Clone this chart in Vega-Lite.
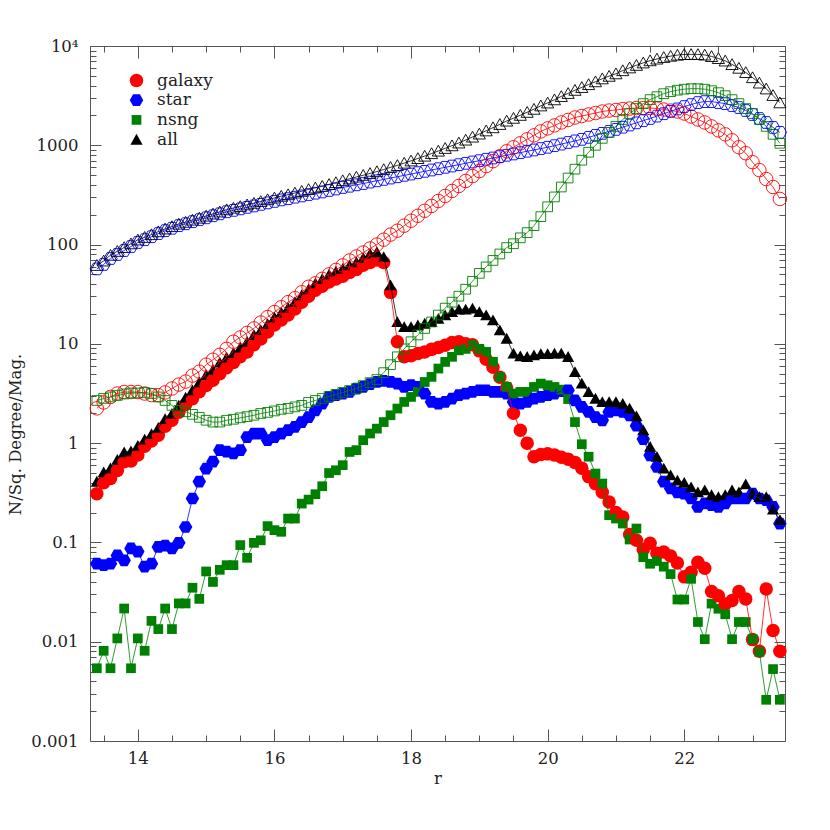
{
  "$schema": "https://vega.github.io/schema/vega-lite/v6.json",
  "width": 695,
  "height": 695,
  "autosize": {"type": "none"},
  "padding": {"left": 90, "top": 46, "right": 45, "bottom": 89},
  "background": "white",
  "config": {
    "view": {"stroke": "#555", "strokeWidth": 1},
    "axis": {"labelFont": "DejaVu Serif", "titleFont": "DejaVu Serif", "labelColor": "#222", "titleColor": "#222", "tickColor": "#555", "tickWidth": 1, "domain": false, "grid": false, "titleFontWeight": "normal", "labelFontSize": 16.5, "titleFontSize": 16.5, "labelOverlap": false, "labelFlush": false},
    "legend": {"labelFont": "DejaVu Serif", "labelFontSize": 17, "labelColor": "#222"}
  },
  "data": {"values": [
    {"r":13.4,"galaxy":0.31,"star":0.061,"nsng":0.0054,"all":0.41,"galaxy_o":2.24,"star_o":56.9,"nsng_o":2.69,"all_o":61.8},
    {"r":13.5,"galaxy":0.40,"star":0.059,"nsng":0.0081,"all":0.51,"galaxy_o":2.57,"star_o":63.1,"nsng_o":2.82,"all_o":68.5},
    {"r":13.6,"galaxy":0.44,"star":0.061,"nsng":0.0054,"all":0.56,"galaxy_o":2.92,"star_o":72.4,"nsng_o":2.92,"all_o":78.2},
    {"r":13.7,"galaxy":0.53,"star":0.074,"nsng":0.0108,"all":0.68,"galaxy_o":3.16,"star_o":79.4,"nsng_o":3.02,"all_o":85.6},
    {"r":13.8,"galaxy":0.65,"star":0.066,"nsng":0.0216,"all":0.81,"galaxy_o":3.27,"star_o":87.1,"nsng_o":3.13,"all_o":93.5},
    {"r":13.9,"galaxy":0.66,"star":0.087,"nsng":0.0054,"all":0.83,"galaxy_o":3.27,"star_o":95.5,"nsng_o":3.20,"all_o":102},
    {"r":14.0,"galaxy":0.76,"star":0.081,"nsng":0.0108,"all":0.94,"galaxy_o":3.27,"star_o":105,"nsng_o":3.20,"all_o":111.5},
    {"r":14.1,"galaxy":0.93,"star":0.057,"nsng":0.0081,"all":1.09,"galaxy_o":3.16,"star_o":112,"nsng_o":3.24,"all_o":118.4},
    {"r":14.2,"galaxy":1.05,"star":0.061,"nsng":0.0162,"all":1.24,"galaxy_o":3.05,"star_o":120,"nsng_o":3.16,"all_o":126.2},
    {"r":14.3,"galaxy":1.2,"star":0.090,"nsng":0.0134,"all":1.43,"galaxy_o":3.04,"star_o":129,"nsng_o":2.92,"all_o":135},
    {"r":14.4,"galaxy":1.48,"star":0.093,"nsng":0.0216,"all":1.75,"galaxy_o":3.24,"star_o":138,"nsng_o":2.69,"all_o":143.9},
    {"r":14.5,"galaxy":1.7,"star":0.087,"nsng":0.0134,"all":1.98,"galaxy_o":3.55,"star_o":146,"nsng_o":2.40,"all_o":152},
    {"r":14.6,"galaxy":2.05,"star":0.099,"nsng":0.0243,"all":2.39,"galaxy_o":3.89,"star_o":155,"nsng_o":2.14,"all_o":161},
    {"r":14.7,"galaxy":2.45,"star":0.143,"nsng":0.0243,"all":2.88,"galaxy_o":4.17,"star_o":162,"nsng_o":2.07,"all_o":168.2},
    {"r":14.8,"galaxy":2.8,"star":0.277,"nsng":0.035,"all":3.42,"galaxy_o":4.79,"star_o":170,"nsng_o":1.95,"all_o":176.7},
    {"r":14.9,"galaxy":3.3,"star":0.41,"nsng":0.027,"all":4.1,"galaxy_o":5.25,"star_o":178,"nsng_o":1.82,"all_o":185},
    {"r":15.0,"galaxy":3.8,"star":0.555,"nsng":0.051,"all":4.85,"galaxy_o":6.17,"star_o":186,"nsng_o":1.70,"all_o":193.9},
    {"r":15.1,"galaxy":4.3,"star":0.65,"nsng":0.040,"all":5.5,"galaxy_o":6.92,"star_o":195,"nsng_o":1.63,"all_o":203.5},
    {"r":15.2,"galaxy":5.0,"star":0.85,"nsng":0.053,"all":6.5,"galaxy_o":7.76,"star_o":204,"nsng_o":1.63,"all_o":213.4},
    {"r":15.3,"galaxy":5.75,"star":0.82,"nsng":0.059,"all":7.3,"galaxy_o":8.91,"star_o":214,"nsng_o":1.70,"all_o":224.6},
    {"r":15.4,"galaxy":6.5,"star":0.79,"nsng":0.059,"all":8.1,"galaxy_o":10.5,"star_o":221,"nsng_o":1.74,"all_o":233.2},
    {"r":15.5,"galaxy":7.4,"star":0.85,"nsng":0.094,"all":9.2,"galaxy_o":11.6,"star_o":229,"nsng_o":1.80,"all_o":242.4},
    {"r":15.6,"galaxy":8.3,"star":1.15,"nsng":0.07,"all":10.5,"galaxy_o":12.9,"star_o":237,"nsng_o":1.85,"all_o":251.8},
    {"r":15.7,"galaxy":9.8,"star":1.25,"nsng":0.099,"all":12.3,"galaxy_o":14.3,"star_o":245,"nsng_o":1.91,"all_o":261.2},
    {"r":15.8,"galaxy":11.2,"star":1.25,"nsng":0.105,"all":13.8,"galaxy_o":16.4,"star_o":254,"nsng_o":1.99,"all_o":272.4},
    {"r":15.9,"galaxy":13.2,"star":1.07,"nsng":0.146,"all":15.9,"galaxy_o":18.6,"star_o":263,"nsng_o":2.04,"all_o":283.6},
    {"r":16.0,"galaxy":15.5,"star":1.15,"nsng":0.133,"all":18.5,"galaxy_o":20.9,"star_o":272,"nsng_o":2.11,"all_o":295},
    {"r":16.1,"galaxy":17.4,"star":1.25,"nsng":0.128,"all":20.7,"galaxy_o":23.4,"star_o":282,"nsng_o":2.19,"all_o":307.6},
    {"r":16.2,"galaxy":19.5,"star":1.35,"nsng":0.174,"all":23.1,"galaxy_o":26.3,"star_o":290,"nsng_o":2.24,"all_o":318.5},
    {"r":16.3,"galaxy":22.4,"star":1.46,"nsng":0.174,"all":26.4,"galaxy_o":28.8,"star_o":300,"nsng_o":2.32,"all_o":331.1},
    {"r":16.4,"galaxy":26.3,"star":1.63,"nsng":0.246,"all":31,"galaxy_o":33.1,"star_o":309,"nsng_o":2.40,"all_o":344.5},
    {"r":16.5,"galaxy":30.2,"star":1.83,"nsng":0.27,"all":35.5,"galaxy_o":37.6,"star_o":319,"nsng_o":2.57,"all_o":359.2},
    {"r":16.6,"galaxy":34.7,"star":2.14,"nsng":0.306,"all":40.9,"galaxy_o":40.7,"star_o":329,"nsng_o":2.69,"all_o":372.4},
    {"r":16.7,"galaxy":38,"star":2.5,"nsng":0.368,"all":45,"galaxy_o":45.2,"star_o":339,"nsng_o":2.82,"all_o":387},
    {"r":16.8,"galaxy":42,"star":2.92,"nsng":0.50,"all":50,"galaxy_o":50.1,"star_o":351,"nsng_o":2.95,"all_o":404},
    {"r":16.9,"galaxy":45,"star":3.04,"nsng":0.533,"all":53.5,"galaxy_o":55.6,"star_o":363,"nsng_o":3.09,"all_o":421.7},
    {"r":17.0,"galaxy":48,"star":3.16,"nsng":0.60,"all":57,"galaxy_o":61.7,"star_o":376,"nsng_o":3.24,"all_o":441},
    {"r":17.1,"galaxy":52.5,"star":3.28,"nsng":0.815,"all":62,"galaxy_o":69.2,"star_o":387,"nsng_o":3.39,"all_o":459.6},
    {"r":17.2,"galaxy":56,"star":3.55,"nsng":0.85,"all":66.4,"galaxy_o":75.9,"star_o":400,"nsng_o":3.55,"all_o":479.5},
    {"r":17.3,"galaxy":62,"star":3.68,"nsng":1.07,"all":73.4,"galaxy_o":83.2,"star_o":412,"nsng_o":3.80,"all_o":499},
    {"r":17.4,"galaxy":66,"star":3.92,"nsng":1.25,"all":81,"galaxy_o":91.2,"star_o":426,"nsng_o":4.07,"all_o":521.3},
    {"r":17.5,"galaxy":70,"star":4.13,"nsng":1.4,"all":84,"galaxy_o":100,"star_o":439,"nsng_o":4.37,"all_o":543.4},
    {"r":17.6,"galaxy":66,"star":4.23,"nsng":1.63,"all":75,"galaxy_o":112,"star_o":453,"nsng_o":5.13,"all_o":570},
    {"r":17.7,"galaxy":33,"star":4.13,"nsng":1.91,"all":39,"galaxy_o":126,"star_o":468,"nsng_o":6.17,"all_o":600},
    {"r":17.8,"galaxy":10.5,"star":3.98,"nsng":2.23,"all":16.6,"galaxy_o":138,"star_o":482,"nsng_o":7.41,"all_o":627},
    {"r":17.9,"galaxy":7.4,"star":3.68,"nsng":2.6,"all":14.8,"galaxy_o":155,"star_o":498,"nsng_o":8.91,"all_o":662},
    {"r":18.0,"galaxy":7.6,"star":3.83,"nsng":2.92,"all":14.8,"galaxy_o":174,"star_o":513,"nsng_o":10.5,"all_o":697.5},
    {"r":18.1,"galaxy":8.0,"star":3.68,"nsng":3.28,"all":15.4,"galaxy_o":195,"star_o":530,"nsng_o":12.3,"all_o":737},
    {"r":18.2,"galaxy":8.3,"star":3.16,"nsng":4.13,"all":16,"galaxy_o":219,"star_o":546,"nsng_o":14.3,"all_o":779},
    {"r":18.3,"galaxy":8.8,"star":2.6,"nsng":4.65,"all":16.6,"galaxy_o":245,"star_o":564,"nsng_o":16.6,"all_o":826},
    {"r":18.4,"galaxy":9.2,"star":2.5,"nsng":5.64,"all":17.9,"galaxy_o":275,"star_o":581,"nsng_o":19.5,"all_o":876},
    {"r":18.5,"galaxy":9.7,"star":2.6,"nsng":6.58,"all":19.4,"galaxy_o":309,"star_o":600,"nsng_o":22.9,"all_o":932},
    {"r":18.6,"galaxy":10.3,"star":2.81,"nsng":7.4,"all":21,"galaxy_o":347,"star_o":618,"nsng_o":26.3,"all_o":991},
    {"r":18.7,"galaxy":10.5,"star":3.04,"nsng":8.6,"all":22.2,"galaxy_o":389,"star_o":638,"nsng_o":30.2,"all_o":1057},
    {"r":18.8,"galaxy":10.0,"star":3.16,"nsng":8.9,"all":22.2,"galaxy_o":437,"star_o":658,"nsng_o":35.5,"all_o":1131},
    {"r":18.9,"galaxy":9.8,"star":3.28,"nsng":9.7,"all":22.7,"galaxy_o":490,"star_o":679,"nsng_o":42.7,"all_o":1212},
    {"r":19.0,"galaxy":8.5,"star":3.41,"nsng":8.9,"all":21,"galaxy_o":550,"star_o":700,"nsng_o":51.3,"all_o":1301},
    {"r":19.1,"galaxy":7.0,"star":3.41,"nsng":8.3,"all":19.4,"galaxy_o":617,"star_o":723,"nsng_o":59.6,"all_o":1400},
    {"r":19.2,"galaxy":5.8,"star":3.28,"nsng":6.6,"all":17.3,"galaxy_o":692,"star_o":745,"nsng_o":69.2,"all_o":1506},
    {"r":19.3,"galaxy":4.6,"star":3.28,"nsng":4.65,"all":13.7,"galaxy_o":776,"star_o":769,"nsng_o":80.4,"all_o":1625},
    {"r":19.4,"galaxy":3.6,"star":3.16,"nsng":3.68,"all":11.3,"galaxy_o":871,"star_o":793,"nsng_o":93.3,"all_o":1757},
    {"r":19.5,"galaxy":2.0,"star":2.6,"nsng":3.16,"all":8.0,"galaxy_o":955,"star_o":818,"nsng_o":102,"all_o":1875},
    {"r":19.6,"galaxy":1.35,"star":2.5,"nsng":3.28,"all":7.5,"galaxy_o":1047,"star_o":843,"nsng_o":117,"all_o":2007},
    {"r":19.7,"galaxy":1.0,"star":2.6,"nsng":3.28,"all":7.4,"galaxy_o":1148,"star_o":871,"nsng_o":132,"all_o":2151},
    {"r":19.8,"galaxy":0.73,"star":2.81,"nsng":3.68,"all":7.7,"galaxy_o":1259,"star_o":897,"nsng_o":155,"all_o":2311},
    {"r":19.9,"galaxy":0.77,"star":2.92,"nsng":3.98,"all":7.9,"galaxy_o":1380,"star_o":927,"nsng_o":191,"all_o":2498},
    {"r":20.0,"galaxy":0.78,"star":3.04,"nsng":3.83,"all":7.9,"galaxy_o":1479,"star_o":955,"nsng_o":240,"all_o":2674},
    {"r":20.1,"galaxy":0.76,"star":3.16,"nsng":3.68,"all":8.0,"galaxy_o":1585,"star_o":991,"nsng_o":302,"all_o":2878},
    {"r":20.2,"galaxy":0.72,"star":3.35,"nsng":3.46,"all":8.0,"galaxy_o":1698,"star_o":1028,"nsng_o":380,"all_o":3106},
    {"r":20.3,"galaxy":0.69,"star":3.41,"nsng":2.78,"all":7.4,"galaxy_o":1799,"star_o":1067,"nsng_o":468,"all_o":3334},
    {"r":20.4,"galaxy":0.64,"star":2.7,"nsng":1.63,"all":5.2,"galaxy_o":1905,"star_o":1107,"nsng_o":575,"all_o":3587},
    {"r":20.5,"galaxy":0.56,"star":2.32,"nsng":0.975,"all":4.0,"galaxy_o":1972,"star_o":1148,"nsng_o":708,"all_o":3828},
    {"r":20.6,"galaxy":0.46,"star":2.06,"nsng":0.73,"all":3.28,"galaxy_o":2042,"star_o":1202,"nsng_o":851,"all_o":4095},
    {"r":20.7,"galaxy":0.39,"star":1.83,"nsng":0.494,"all":2.81,"galaxy_o":2113,"star_o":1259,"nsng_o":1000,"all_o":4372},
    {"r":20.8,"galaxy":0.32,"star":1.7,"nsng":0.392,"all":2.6,"galaxy_o":2188,"star_o":1318,"nsng_o":1175,"all_o":4681},
    {"r":20.9,"galaxy":0.255,"star":2.06,"nsng":0.188,"all":2.6,"galaxy_o":2239,"star_o":1380,"nsng_o":1349,"all_o":4968},
    {"r":21.0,"galaxy":0.20,"star":2.14,"nsng":0.174,"all":2.6,"galaxy_o":2265,"star_o":1445,"nsng_o":1549,"all_o":5259},
    {"r":21.1,"galaxy":0.18,"star":2.06,"nsng":0.155,"all":2.5,"galaxy_o":2317,"star_o":1521,"nsng_o":1820,"all_o":5658},
    {"r":21.2,"galaxy":0.12,"star":1.9,"nsng":0.107,"all":2.23,"galaxy_o":2344,"star_o":1600,"nsng_o":2089,"all_o":6033},
    {"r":21.3,"galaxy":0.105,"star":1.5,"nsng":0.138,"all":1.87,"galaxy_o":2371,"star_o":1683,"nsng_o":2344,"all_o":6398},
    {"r":21.4,"galaxy":0.085,"star":1.1,"nsng":0.071,"all":1.35,"galaxy_o":2371,"star_o":1770,"nsng_o":2630,"all_o":6771},
    {"r":21.5,"galaxy":0.098,"star":0.755,"nsng":0.061,"all":0.92,"galaxy_o":2371,"star_o":1862,"nsng_o":2884,"all_o":7117},
    {"r":21.6,"galaxy":0.078,"star":0.575,"nsng":0.065,"all":0.73,"galaxy_o":2344,"star_o":1968,"nsng_o":3090,"all_o":7402},
    {"r":21.7,"galaxy":0.08,"star":0.41,"nsng":0.057,"all":0.555,"galaxy_o":2291,"star_o":2080,"nsng_o":3311,"all_o":7682},
    {"r":21.8,"galaxy":0.073,"star":0.35,"nsng":0.048,"all":0.475,"galaxy_o":2239,"star_o":2198,"nsng_o":3467,"all_o":7904},
    {"r":21.9,"galaxy":0.062,"star":0.32,"nsng":0.0266,"all":0.42,"galaxy_o":2188,"star_o":2323,"nsng_o":3589,"all_o":8100},
    {"r":22.0,"galaxy":0.045,"star":0.31,"nsng":0.0266,"all":0.40,"galaxy_o":2089,"star_o":2455,"nsng_o":3673,"all_o":8217},
    {"r":22.1,"galaxy":0.05,"star":0.277,"nsng":0.043,"all":0.36,"galaxy_o":1950,"star_o":2570,"nsng_o":3715,"all_o":8235},
    {"r":22.2,"galaxy":0.063,"star":0.228,"nsng":0.0158,"all":0.32,"galaxy_o":1820,"star_o":2692,"nsng_o":3715,"all_o":8227},
    {"r":22.3,"galaxy":0.055,"star":0.247,"nsng":0.0106,"all":0.336,"galaxy_o":1698,"star_o":2754,"nsng_o":3673,"all_o":8125},
    {"r":22.4,"galaxy":0.032,"star":0.237,"nsng":0.0242,"all":0.30,"galaxy_o":1549,"star_o":2754,"nsng_o":3548,"all_o":7851},
    {"r":22.5,"galaxy":0.029,"star":0.228,"nsng":0.0215,"all":0.287,"galaxy_o":1413,"star_o":2692,"nsng_o":3388,"all_o":7493},
    {"r":22.6,"galaxy":0.024,"star":0.247,"nsng":0.0189,"all":0.30,"galaxy_o":1288,"star_o":2630,"nsng_o":3162,"all_o":7080},
    {"r":22.7,"galaxy":0.026,"star":0.277,"nsng":0.0106,"all":0.336,"galaxy_o":1122,"star_o":2512,"nsng_o":2884,"all_o":6518},
    {"r":22.8,"galaxy":0.032,"star":0.277,"nsng":0.0158,"all":0.32,"galaxy_o":955,"star_o":2399,"nsng_o":2630,"all_o":5984},
    {"r":22.9,"galaxy":0.027,"star":0.277,"nsng":0.0158,"all":0.385,"galaxy_o":832,"star_o":2239,"nsng_o":2344,"all_o":5415},
    {"r":23.0,"galaxy":0.0105,"star":0.31,"nsng":0.0106,"all":0.31,"galaxy_o":676,"star_o":2042,"nsng_o":2089,"all_o":4807},
    {"r":23.1,"galaxy":0.008,"star":0.277,"nsng":0.0079,"all":0.287,"galaxy_o":562,"star_o":1862,"nsng_o":1820,"all_o":4244},
    {"r":23.2,"galaxy":0.034,"star":0.266,"nsng":0.0026,"all":0.287,"galaxy_o":457,"star_o":1698,"nsng_o":1549,"all_o":3704},
    {"r":23.3,"galaxy":0.013,"star":0.228,"nsng":0.0053,"all":0.215,"galaxy_o":380,"star_o":1514,"nsng_o":1288,"all_o":3182},
    {"r":23.4,"galaxy":0.008,"star":0.155,"nsng":0.0026,"all":0.168,"galaxy_o":288,"star_o":1349,"nsng_o":1047,"all_o":2684}
  ]},
  "resolve": {"axis": {"x": "independent", "y": "independent"}},
  "layer": [
    {
      "transform": [{"fold": ["galaxy", "star", "nsng", "all"], "as": ["key", "N"]}],
      "mark": {"type": "point", "filled": true, "size": 182, "opacity": 1},
      "encoding": {
        "x": {"field": "r", "type": "quantitative",
          "scale": {"domain": [13.3, 23.475], "nice": false, "zero": false},
          "axis": {"orient": "bottom", "offset": -12, "tickSize": 12,
            "values": [13.5,14,14.5,15,15.5,16,16.5,17,17.5,18,18.5,19,19.5,20,20.5,21,21.5,22,22.5,23],
            "tickDash": {"condition": {"test": "datum.value % 2 != 0", "value": [0, 6, 6, 30]}, "value": [12, 0]},
            "labelExpr": "datum.value % 2 == 0 ? format(datum.value, 'd') : ''",
            "labelPadding": 9, "title": "r", "titlePadding": 4}},
        "y": {"field": "N", "type": "quantitative",
          "scale": {"type": "log", "domain": [0.001, 10000], "nice": false},
          "axis": {"orient": "left", "offset": -11, "tickSize": 11,
            "values": [0.001,0.002,0.003,0.004,0.005,0.006,0.007,0.008,0.009,0.01,0.02,0.03,0.04,0.05,0.06,0.07,0.08,0.09,0.1,0.2,0.3,0.4,0.5,0.6,0.7,0.8,0.9,1,2,3,4,5,6,7,8,9,10,20,30,40,50,60,70,80,90,100,200,300,400,500,600,700,800,900,1000,2000,3000,4000,5000,6000,7000,8000,9000,10000],
            "tickDash": {"condition": {"test": "abs(log(datum.value)/LN10 - round(log(datum.value)/LN10)) > 0.001", "value": [0, 5, 6, 30]}, "value": [11, 0]},
            "labelExpr": "abs(log(datum.value)/LN10 - round(log(datum.value)/LN10)) < 0.001 ? (datum.value > 5000 ? '10⁴' : format(datum.value, '~g')) : ''",
            "labelPadding": 12, "title": "N/Sq. Degree/Mag.", "titleFontSize": 16.5, "titleX": -81, "titleY": 388, "titleAngle": -90, "titleAlign": "center", "titleBaseline": "alphabetic"}},
        "color": {"field": "key", "type": "nominal",
          "scale": {"domain": ["galaxy","star","nsng","all","galaxy_o","star_o","nsng_o","all_o"],
                    "range": ["#ff0000","#0000ff","#008000","#000000","#ff0000","#0000ff","#008000","#000000"]},
          "legend": {"orient": "none", "legendX": 38, "legendY": 26, "title": null, "values": ["galaxy","star","nsng","all"], "symbolSize": 182, "labelOffset": 12, "rowPadding": 1.7, "padding": 0, "symbolStrokeWidth": 0, "labelFont": "DejaVu Serif", "labelFontSize": 17}},
        "shape": {"field": "key", "type": "nominal",
          "scale": {"domain": ["galaxy","star","nsng","all","galaxy_o","star_o","nsng_o","all_o"],
                    "range": ["circle","M-1,0L-0.5,-0.87L0.5,-0.87L1,0L0.5,0.87L-0.5,0.87Z","M-0.72,-0.72L0.72,-0.72L0.72,0.72L-0.72,0.72Z","M0,-0.85L0.9,0.75L-0.9,0.75Z","circle","M-1,0L-0.5,-0.87L0.5,-0.87L1,0L0.5,0.87L-0.5,0.87Z","M-0.72,-0.72L0.72,-0.72L0.72,0.72L-0.72,0.72Z","M0,-0.85L0.9,0.75L-0.9,0.75Z"]},
          "legend": {"orient": "none", "legendX": 38, "legendY": 26, "title": null, "values": ["galaxy","star","nsng","all"], "symbolSize": 182, "labelOffset": 12, "rowPadding": 1.7, "padding": 0, "symbolStrokeWidth": 0, "labelFont": "DejaVu Serif", "labelFontSize": 17}}
      }
    },
    {
      "transform": [{"fold": ["galaxy", "star", "nsng", "all"], "as": ["key", "N"]}],
      "mark": {"type": "line", "strokeWidth": 0.8},
      "encoding": {
        "x": {"field": "r", "type": "quantitative", "axis": null},
        "y": {"field": "N", "type": "quantitative", "axis": null},
        "color": {"field": "key", "type": "nominal"}
      }
    },
    {
      "transform": [{"fold": ["galaxy_o", "star_o", "nsng_o", "all_o"], "as": ["key", "N"]}],
      "mark": {"type": "line", "strokeWidth": 0.8},
      "encoding": {
        "x": {"field": "r", "type": "quantitative", "axis": null},
        "y": {"field": "N", "type": "quantitative", "axis": null},
        "color": {"field": "key", "type": "nominal"}
      }
    },
    {
      "transform": [{"fold": ["galaxy_o", "star_o", "nsng_o", "all_o"], "as": ["key", "N"]}],
      "mark": {"type": "point", "filled": false, "strokeWidth": 0.9, "size": 182, "opacity": 1},
      "encoding": {
        "x": {"field": "r", "type": "quantitative",
          "axis": {"orient": "top", "offset": -12, "tickSize": 12,
            "values": [13.5,14,14.5,15,15.5,16,16.5,17,17.5,18,18.5,19,19.5,20,20.5,21,21.5,22,22.5,23],
            "tickDash": {"condition": {"test": "datum.value % 2 != 0", "value": [0, 6, 6, 30]}, "value": [12, 0]},
            "labels": false, "title": null}},
        "y": {"field": "N", "type": "quantitative",
          "axis": {"orient": "right", "offset": -11, "tickSize": 11,
            "values": [0.001,0.002,0.003,0.004,0.005,0.006,0.007,0.008,0.009,0.01,0.02,0.03,0.04,0.05,0.06,0.07,0.08,0.09,0.1,0.2,0.3,0.4,0.5,0.6,0.7,0.8,0.9,1,2,3,4,5,6,7,8,9,10,20,30,40,50,60,70,80,90,100,200,300,400,500,600,700,800,900,1000,2000,3000,4000,5000,6000,7000,8000,9000,10000],
            "tickDash": {"condition": {"test": "abs(log(datum.value)/LN10 - round(log(datum.value)/LN10)) > 0.001", "value": [0, 5, 6, 30]}, "value": [11, 0]},
            "labels": false, "title": null}},
        "color": {"field": "key", "type": "nominal"},
        "shape": {"field": "key", "type": "nominal"}
      }
    }
  ]
}
